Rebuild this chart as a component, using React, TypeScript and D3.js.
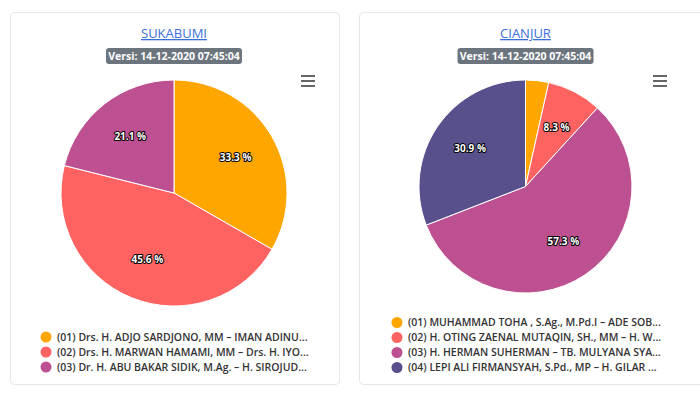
import { useMemo } from "react";
import { pie, arc, PieArcDatum } from "d3";

// chart data
const palette = ["#ffa600", "#ff6361", "#bc5090", "#58508d"];

const sukabumiNames = [
  "(01) Drs. H. ADJO SARDJONO, MM – IMAN ADINU...",
  "(02) Drs. H. MARWAN HAMAMI, MM – Drs. H. IYO...",
  "(03) Dr. H. ABU BAKAR SIDIK, M.Ag. – H. SIROJUD...",
];
const sukabumiValues = [33.3, 45.6, 21.1];

const cianjurNames = [
  "(01) MUHAMMAD TOHA , S.Ag., M.Pd.I – ADE SOB...",
  "(02) H. OTING ZAENAL MUTAQIN, SH., MM – H. W...",
  "(03) H. HERMAN SUHERMAN – TB. MULYANA SYA...",
  "(04) LEPI ALI FIRMANSYAH, S.Pd., MP – H. GILAR ...",
];
const cianjurValues = [3.5, 8.3, 57.3, 30.9];

const versionText = "Versi: 14-12-2020 07:45:04";

const FONT = "'Open Sans', 'Noto Sans', sans-serif";

interface PieCardProps {
  x: number;
  width: number;
  title: string;
  names: string[];
  values: number[];
  cx: number;
  cy: number;
  r: number;
  legendX: number;
  legendTop: number;
  menuX: number;
}

function PieCard({
  x,
  width,
  title,
  names,
  values,
  cx,
  cy,
  r,
  legendX,
  legendTop,
  menuX,
}: PieCardProps) {
  const arcs = useMemo(
    () =>
      pie<number>()
        .sort(null)
        .value((d) => d)(values),
    [values]
  );
  const arcFn = arc<PieArcDatum<number>>().innerRadius(0).outerRadius(r);
  const labelArc = arc<PieArcDatum<number>>()
    .innerRadius(r * 0.63)
    .outerRadius(r * 0.63);

  const mid = cx;

  return (
    <g>
      <rect
        x={x + 0.5}
        y={12.5}
        width={width}
        height={372}
        rx={4}
        fill="#fff"
        stroke="#e6e6e6"
      />
      <text
        x={mid}
        y={38}
        textAnchor="middle"
        fontFamily={FONT}
        fontSize={13}
        fill="#3a6fd8"
        textDecoration="underline"
      >
        {title}
      </text>
      <rect x={mid - 68} y={48} width={136} height={16} rx={3} fill="#6c757d" />
      <text
        x={mid}
        y={60}
        textAnchor="middle"
        fontFamily={FONT}
        fontSize={10.5}
        fontWeight={700}
        fill="#fff"
      >
        {versionText}
      </text>
      {[76, 81, 86].map((y) => (
        <line
          key={y}
          x1={menuX}
          x2={menuX + 14}
          y1={y}
          y2={y}
          stroke="#666"
          strokeWidth={2}
        />
      ))}
      <g transform={`translate(${cx},${cy})`}>
        {arcs.map((a, i) => (
          <path
            key={i}
            d={arcFn(a) ?? ""}
            fill={palette[i]}
            stroke="#fff"
            strokeWidth={1}
          />
        ))}
        {arcs.map((a, i) => {
          if (a.data < 5) return null;
          const [lx, ly] = labelArc.centroid(a);
          return (
            <text
              key={i}
              x={lx}
              y={ly}
              dy="0.35em"
              textAnchor="middle"
              fontFamily={FONT}
              fontSize={10}
              fontWeight={700}
              fill="#fff"
              stroke="#000"
              strokeWidth={2}
              strokeLinejoin="round"
              paintOrder="stroke"
            >
              {a.data.toFixed(1)} %
            </text>
          );
        })}
      </g>
      {names.map((n, i) => (
        <g key={i} transform={`translate(${legendX},${legendTop + i * 15})`}>
          <circle cx={0} cy={0} r={5.5} fill={palette[i]} />
          <text
            x={11}
            y={0}
            dy="0.35em"
            fontFamily={FONT}
            fontSize={10.5}
            fontWeight={600}
            fill="#333"
          >
            {n}
          </text>
        </g>
      ))}
    </g>
  );
}

export default function App() {
  return (
    <div style={{ position: "absolute", left: 0, top: 0 }}>
      <svg width={700} height={393} style={{ display: "block" }}>
        <rect width={700} height={393} fill="#fff" />
        <PieCard
          x={10}
          width={329}
          title="SUKABUMI"
          names={sukabumiNames}
          values={sukabumiValues}
          cx={174}
          cy={193}
          r={113}
          legendX={46}
          legendTop={337}
          menuX={301}
        />
        <PieCard
          x={359}
          width={360}
          title="CIANJUR"
          names={cianjurNames}
          values={cianjurValues}
          cx={525.5}
          cy={186.5}
          r={106.5}
          legendX={397}
          legendTop={322.5}
          menuX={653}
        />
      </svg>
    </div>
  );
}
